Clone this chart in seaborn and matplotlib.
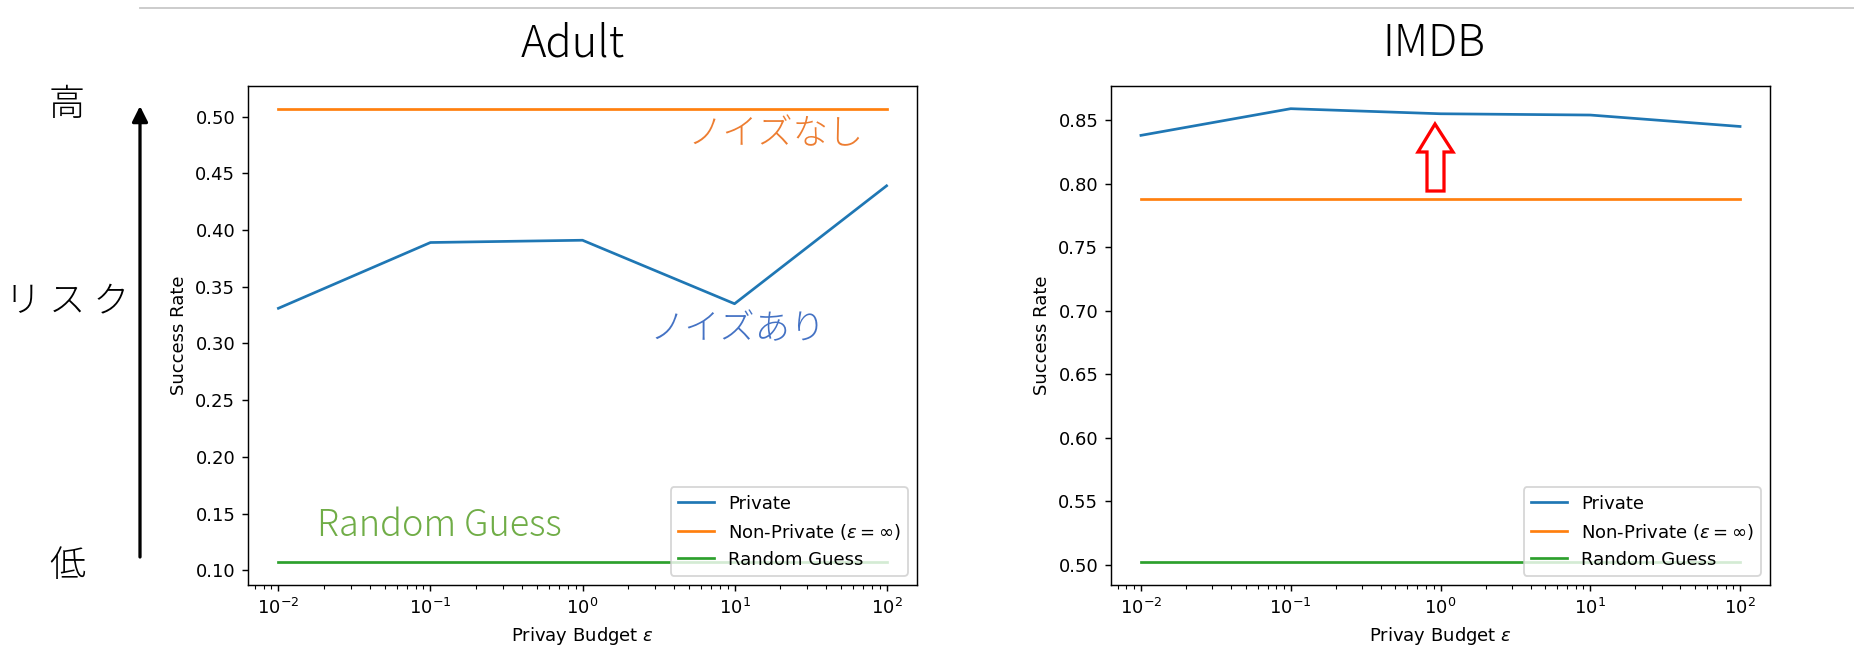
import numpy as np
import pandas as pd
import matplotlib
matplotlib.use("Agg")
import matplotlib.pyplot as plt
from matplotlib.lines import Line2D
from matplotlib.patches import Polygon
import seaborn as sns

# ---- data ----
eps_values = [1e-2, 1e-1, 1e0, 1e1, 1e2]
adult_private = [0.331, 0.389, 0.391, 0.335, 0.439]
adult_nonprivate = 0.507
adult_random = 0.107
imdb_private = [0.838, 0.859, 0.855, 0.854, 0.845]
imdb_nonprivate = 0.788
imdb_random = 0.502
series_names = ["Private", r"Non-Private ($\varepsilon=\infty$)", "Random Guess"]
line_colors = ["#1f77b4", "#ff7f0e", "#2ca02c"]

W, H = 1854, 645
DPI = 130
JP = ["Noto Sans CJK JP", "DejaVu Sans"]


def make_frame(private, nonprivate, random_guess):
    rows = []
    for e, p in zip(eps_values, private):
        rows.append((e, p, series_names[0]))
    for e in eps_values:
        rows.append((e, nonprivate, series_names[1]))
        rows.append((e, random_guess, series_names[2]))
    return pd.DataFrame(rows, columns=["eps", "rate", "series"])


def px(x, y):
    # reference pixel (top-left origin) -> figure fraction
    return x / W, 1 - y / H


def draw_panel(ax, df):
    sns.lineplot(data=df, x="eps", y="rate", hue="series", hue_order=series_names,
                 palette=line_colors, ax=ax, linewidth=1.5)
    ax.set_xscale("log")
    ax.set_xlabel(r"Privay Budget $\varepsilon$")
    ax.set_ylabel("Success Rate")
    sns.move_legend(ax, "lower right", title=None)


fig = plt.figure(figsize=(W / DPI, H / DPI), dpi=DPI)
ax_adult = fig.add_axes([248 / W, 1 - 585 / H, (917 - 248) / W, (585 - 86) / H])
ax_imdb = fig.add_axes([1111 / W, 1 - 585 / H, (1770 - 1111) / W, (585 - 86) / H])

draw_panel(ax_adult, make_frame(adult_private, adult_nonprivate, adult_random))
draw_panel(ax_imdb, make_frame(imdb_private, imdb_nonprivate, imdb_random))

# titles
fig.text(*px(573, 44), "Adult", ha="center", va="center", fontsize=24,
         family=JP, fontweight="light")
fig.text(*px(1434, 44), "IMDB", ha="center", va="center", fontsize=24,
         family=JP, fontweight="light")

# thin grey rule along the top
fig.add_artist(Line2D([140 / W, 1.0], [1 - 8 / H, 1 - 8 / H], color="#c8c8c8", lw=1))

# risk scale on the left
fig.text(*px(67, 105), "高", ha="center", va="center", fontsize=20, family=JP,
         fontweight="light")
fig.text(*px(67, 302), "リ ス ク", ha="center", va="center", fontsize=20, family=JP,
         fontweight="light")
fig.text(*px(67, 566), "低", ha="center", va="center", fontsize=20, family=JP,
         fontweight="light")
ax_adult.annotate("", xy=px(140, 106), xytext=px(140, 557),
                  xycoords="figure fraction", textcoords="figure fraction",
                  arrowprops=dict(arrowstyle="-|>", color="black", lw=1.8,
                                  mutation_scale=18, shrinkA=0, shrinkB=0),
                  annotation_clip=False)

# series annotations
fig.text(*px(776, 134), "ノイズなし", ha="center", va="center", fontsize=19.5,
         family=JP, color="#ED7D31", fontweight="light")
fig.text(*px(738, 329), "ノイズあり", ha="center", va="center", fontsize=19.5,
         family=JP, color="#4472C4", fontweight="light")
fig.text(*px(439, 526), "Random Guess", ha="center", va="center", fontsize=20,
         family=JP, color="#70AD47", fontweight="light")

# red outlined arrow on IMDB
arrow_pts = [(1427, 191), (1444, 191), (1444, 152), (1453, 152), (1435, 124),
             (1418, 152), (1427, 152)]
fig.add_artist(Polygon([px(x, y) for x, y in arrow_pts], closed=True,
                       facecolor="white", edgecolor="red", lw=1.8,
                       transform=fig.transFigure))

fig.savefig("out.png", dpi=DPI)
